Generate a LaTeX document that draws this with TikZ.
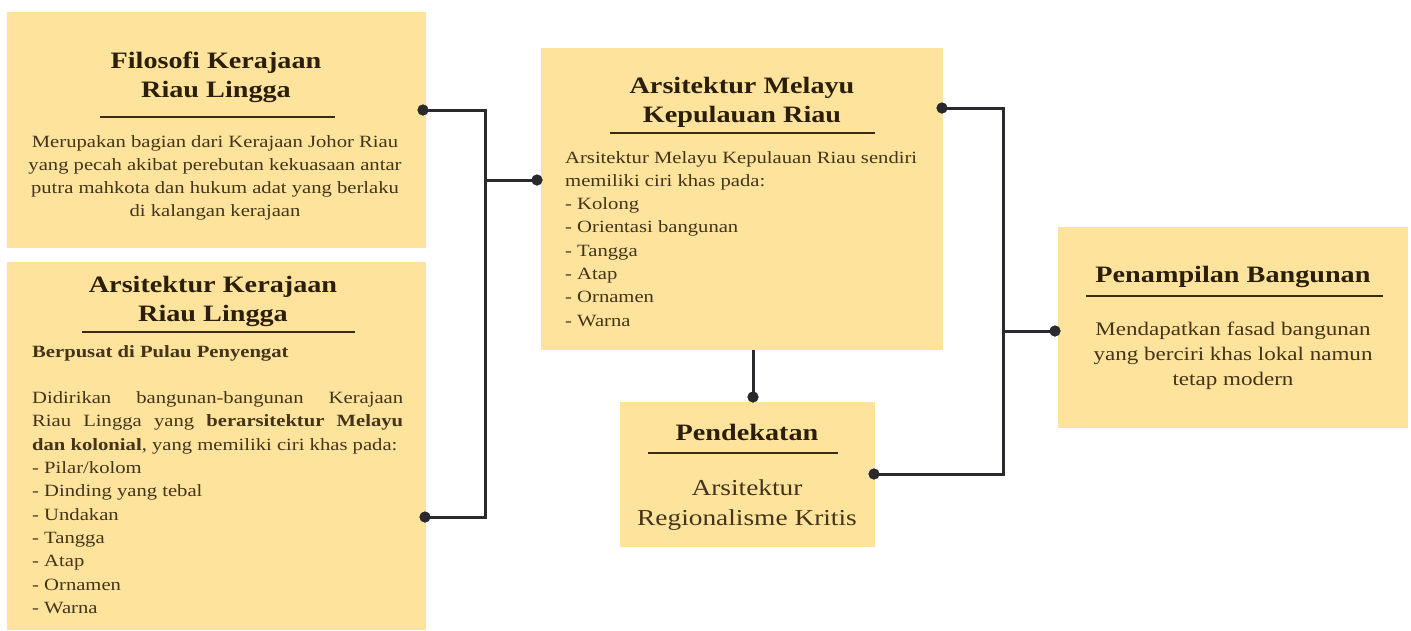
\documentclass[tikz,border=0pt]{standalone}
\usepackage{fontspec}
\setmainfont{Liberation Serif}[FakeStretch=1.2]
\definecolor{boxfill}{HTML}{FDE39C}
\definecolor{ttlcol}{HTML}{2B1E0A}
\definecolor{bodycol}{HTML}{43341A}
\definecolor{rulecol}{HTML}{3A2A0E}
\definecolor{conncol}{HTML}{2A2A2E}
\newcommand\txtlines[2]{\begin{tabular}[t]{@{}#1@{}}#2\end{tabular}}
\begin{document}
\begin{tikzpicture}[x=1pt,y=-1pt,
  box/.style={fill=boxfill, draw=none, inner sep=0pt, outer sep=0pt},
  ttl/.style={inner sep=0pt, text=ttlcol, font=\fontsize{23.5}{29}\selectfont\bfseries},
  bdy/.style={inner sep=0pt, text=bodycol, font=\fontsize{17.2}{23.3}\selectfont},
  undl/.style={draw=rulecol, line width=2pt},
  conn/.style={draw=conncol, line width=3pt},
  dotnode/.style={circle, fill=conncol, inner sep=0pt, minimum size=11pt}]
\useasboundingbox[fill=white] (0,0) rectangle (1411,630);

% boxes
\node[box, minimum width=419pt, minimum height=236pt, anchor=north west] (b1) at (7,12) {};
\node[box, minimum width=419pt, minimum height=368pt, anchor=north west] (b2) at (7,262) {};
\node[box, minimum width=402pt, minimum height=302pt, anchor=north west] (b3) at (541,48) {};
\node[box, minimum width=255pt, minimum height=145pt, anchor=north west] (b4) at (620,402) {};
\node[box, minimum width=350pt, minimum height=201pt, anchor=north west] (b5) at (1058,227) {};

% box 1
\node[ttl, anchor=base] (t1) at (216,68) {\txtlines{c}{Filosofi Kerajaan\\Riau Lingga}};
\draw[undl] (100,117) -- (335,117);
\node[bdy, anchor=base] (x1) at (215,147) {\txtlines{c}{Merupakan bagian dari Kerajaan Johor Riau\\yang pecah akibat perebutan kekuasaan antar\\putra mahkota dan hukum adat yang berlaku\\di kalangan kerajaan}};

% box 2
\node[ttl, anchor=base] (t2) at (213,292) {\txtlines{c}{Arsitektur Kerajaan\\Riau Lingga}};
\draw[undl] (82,332) -- (355,332);
\node[bdy, anchor=base west] (x2) at (32,357) {\txtlines{l}{\textbf{Berpusat di Pulau Penyengat}\\
\\
\makebox[371pt][s]{Didirikan bangunan-bangunan Kerajaan}\\
\makebox[371pt][s]{Riau Lingga yang \textbf{berarsitektur Melayu}}\\
\textbf{dan kolonial}, yang memiliki ciri khas pada:\\
- Pilar/kolom\\
- Dinding yang tebal\\
- Undakan\\
- Tangga\\
- Atap\\
- Ornamen\\
- Warna}};

% box 3
\node[ttl, anchor=base] (t3) at (742,93) {\txtlines{c}{Arsitektur Melayu\\Kepulauan Riau}};
\draw[undl] (610,133) -- (875,133);
\node[bdy, anchor=base west] (x3) at (565,163) {\txtlines{l}{Arsitektur Melayu Kepulauan Riau sendiri\\
memiliki ciri khas pada:\\
- Kolong\\
- Orientasi bangunan\\
- Tangga\\
- Atap\\
- Ornamen\\
- Warna}};

% box 4
\node[ttl, anchor=base] (t4) at (747,440) {Pendekatan};
\draw[undl] (648,453) -- (838,453);
\node[bdy, anchor=base, font=\fontsize{22.8}{30}\selectfont] (x4) at (747,495) {\txtlines{c}{Arsitektur\\Regionalisme Kritis}};

% box 5
\node[ttl, anchor=base] (t5) at (1233,282) {Penampilan Bangunan};
\draw[undl] (1086,296) -- (1383,296);
\node[bdy, anchor=base, font=\fontsize{19.2}{25}\selectfont] (x5) at (1233,335) {\txtlines{c}{Mendapatkan fasad bangunan\\yang berciri khas lokal namun\\tetap modern}};

% connector points
\coordinate (jA) at (485,110);
\coordinate (jB) at (485,517);
\coordinate (jC) at (485,180);
\coordinate (jD) at (1003,108);
\coordinate (jE) at (1003,474);
\coordinate (jF) at (1003,331);

\node[dotnode] (p1) at (423,110) {};
\node[dotnode] (p2) at (425,517) {};
\node[dotnode] (p3) at (537,180) {};
\node[dotnode] (p4) at (942,108) {};
\node[dotnode] (p5) at (753,397) {};
\node[dotnode] (p6) at (874,474) {};
\node[dotnode] (p7) at (1055,331) {};

\draw[conn] (p1.center) -- (jA) -- (jB) -- (p2.center);
\draw[conn] (jC) -- (p3.center);
\draw[conn] (p4.center) -- (jD) -- (jE) -- (p6.center);
\draw[conn] (jF) -- (p7.center);
\draw[conn] (p5.center) -- (p5.center |- b3.south);

% dots on top of the lines
\foreach \p in {p1,p2,p3,p4,p5,p6,p7} {\fill[conncol] (\p.center) circle (5.5pt);}
\end{tikzpicture}
\end{document}
